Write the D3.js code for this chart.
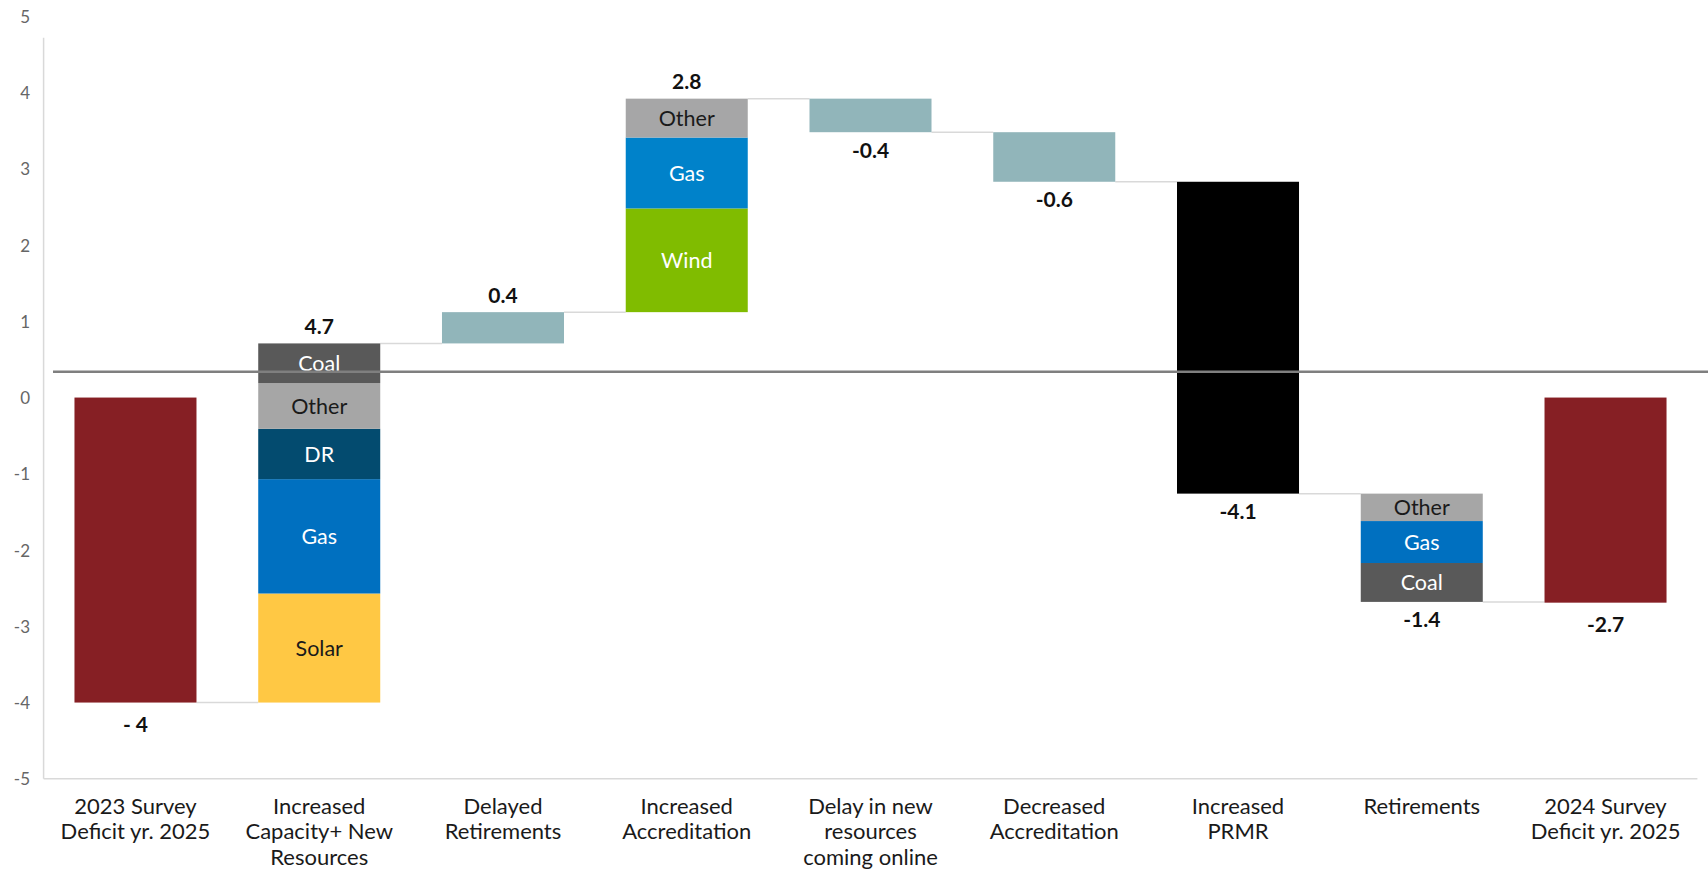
<!DOCTYPE html>
<html>
<head>
<meta charset="utf-8">
<script src="https://cdn.jsdelivr.net/npm/d3@7"></script>
<style>
  html, body { margin: 0; padding: 0; background: #ffffff; }
  svg { display: block; }
</style>
</head>
<body>
<svg id="chart" width="1708" height="872"></svg>
<script>
// ---------------- DATA ----------------
const categories = [
  "2023 Survey\nDeficit yr. 2025",
  "Increased\nCapacity+ New\nResources",
  "Delayed\nRetirements",
  "Increased\nAccreditation",
  "Delay in new\nresources\ncoming online",
  "Decreased\nAccreditation",
  "Increased\nPRMR",
  "Retirements",
  "2024 Survey\nDeficit yr. 2025"
];
const startDeficit = -4.0;
const endDeficit = -2.69;
const capacitySeries = ["Solar", "Gas", "DR", "Other", "Coal"];
const capacityValues = [1.43, 1.50, 0.66, 0.60, 0.52];
const delayedRetirementsValue = 0.41;
const accreditationSeries = ["Wind", "Gas", "Other"];
const accreditationValues = [1.36, 0.93, 0.51];
const delayOnlineValue = -0.44;
const decreasedAccreditationValue = -0.65;
const prmrValue = -4.09;
const retirementSeries = ["Other", "Gas", "Coal"];
const retirementValues = [-0.36, -0.55, -0.51];
const valueLabels = ["- 4", "4.7", "0.4", "2.8", "-0.4", "-0.6", "-4.1", "-1.4", "-2.7"];
const referenceLineValue = 0.34;
const yTickValues = [5, 4, 3, 2, 1, 0, -1, -2, -3, -4, -5];
const yTickLabels = ["5", "4", "3", "2", "1", "0", "-1", "-2", "-3", "-4", "-5"];

// ---------------- STYLE ----------------
const W = 1708, H = 872;
const plot = { left: 43.6, right: 1697.4, top: 16.3, bottom: 778.8 };
const font = "Lato, 'Open Sans', sans-serif";
const fills = {
  deficit: "#861F24",
  step: "#91B5BA",
  prmr: "#000000",
  cap_Solar: "#FFC844", cap_Gas: "#0070C0", cap_DR: "#034B6F", cap_Other: "#A6A6A6", cap_Coal: "#595959",
  acc_Wind: "#80BC00", acc_Gas: "#0082CA", acc_Other: "#A6A6A7",
  ret_Other: "#A6A6A6", ret_Gas: "#0070C0", ret_Coal: "#595959"
};
const darkText = new Set(["Solar", "Other"]);

// ---------------- BUILD STEPS ----------------
const steps = [];
steps.push({ cat: categories[0], segments: [{ key: "deficit", name: null, from: 0, to: startDeficit }], total: true });
let level = startDeficit;
function addStack(cat, prefix, names, values) {
  const segs = [];
  names.forEach((n, i) => {
    const from = level, to = level + values[i];
    segs.push({ key: prefix + "_" + n, name: n, from, to });
    level = to;
  });
  steps.push({ cat, segments: segs });
}
function addSingle(cat, key, value) {
  steps.push({ cat, segments: [{ key, name: null, from: level, to: level + value }] });
  level += value;
}
addStack(categories[1], "cap", capacitySeries, capacityValues);
addSingle(categories[2], "step", delayedRetirementsValue);
addStack(categories[3], "acc", accreditationSeries, accreditationValues);
addSingle(categories[4], "step", delayOnlineValue);
addSingle(categories[5], "step", decreasedAccreditationValue);
addSingle(categories[6], "prmr", prmrValue);
addStack(categories[7], "ret", retirementSeries, retirementValues);
steps.push({ cat: categories[8], segments: [{ key: "deficit", name: null, from: 0, to: endDeficit }], total: true });

steps.forEach((s, i) => {
  const vals = s.segments.flatMap(d => [d.from, d.to]);
  s.lo = d3.min(vals); s.hi = d3.max(vals);
  s.label = valueLabels[i];
  const first = s.segments[0].from, last = s.segments[s.segments.length - 1].to;
  s.up = !s.total && last > first;
  s.endLevel = s.total ? s.segments[0].to : last;
});

// ---------------- SCALES ----------------
const x = d3.scaleBand().domain(categories).range([plot.left, plot.right]).paddingInner(0.336).paddingOuter(0.168);
const y = d3.scaleLinear().domain([-5, 5]).range([plot.bottom, plot.top]);

const svg = d3.select("#chart");

// axes lines
svg.append("line").attr("x1", plot.left).attr("x2", plot.left)
  .attr("y1", y(4.72)).attr("y2", y(-5))
  .attr("stroke", "#d9d9d9").attr("stroke-width", 1.5);
svg.append("line").attr("x1", plot.left).attr("x2", plot.right)
  .attr("y1", y(-5)).attr("y2", y(-5))
  .attr("stroke", "#d9d9d9").attr("stroke-width", 1.5);

// y tick labels
const yAxis = d3.axisLeft(y).tickValues(yTickValues).tickSize(0).tickPadding(0)
  .tickFormat((d, i) => yTickLabels[i]);
const yg = svg.append("g").attr("transform", `translate(${30},0)`).call(yAxis);
yg.select(".domain").remove();
yg.selectAll("text").attr("font-family", font).attr("font-size", 17).attr("fill", "#666666").attr("dy", "0.35em");

// x category labels
const xAxis = d3.axisBottom(x).tickSize(0).tickFormat(() => "");
const xg = svg.append("g").attr("transform", `translate(0,${plot.bottom})`).call(xAxis);
xg.select(".domain").remove();
xg.selectAll(".tick").each(function(d) {
  const lines = d.split("\n");
  const t = d3.select(this).append("text")
    .attr("text-anchor", "middle").attr("font-family", font).attr("font-size", 22)
    .attr("fill", "#1a1a1a");
  lines.forEach((ln, i) => {
    t.append("tspan").attr("x", 0).attr("y", 35 + i * 25.5).text(ln);
  });
});

// connectors
const bw = x.bandwidth();
for (let i = 0; i < steps.length - 1; i++) {
  const lv = steps[i].endLevel;
  svg.append("line")
    .attr("x1", x(steps[i].cat) + bw).attr("x2", x(steps[i + 1].cat))
    .attr("y1", y(lv)).attr("y2", y(lv))
    .attr("stroke", "#d9d9d9").attr("stroke-width", 1.5);
}

// bars
const allSegs = steps.flatMap(s => s.segments.map(seg => Object.assign({ cat: s.cat }, seg)));
svg.append("g").selectAll("rect").data(allSegs).join("rect")
  .attr("x", d => x(d.cat))
  .attr("width", bw)
  .attr("y", d => y(Math.max(d.from, d.to)))
  .attr("height", d => Math.abs(y(d.from) - y(d.to)))
  .attr("fill", d => fills[d.key]);

// segment labels
svg.append("g").selectAll("text").data(allSegs.filter(d => d.name)).join("text")
  .attr("x", d => x(d.cat) + bw / 2)
  .attr("y", d => y((d.from + d.to) / 2))
  .attr("dy", "0.36em")
  .attr("text-anchor", "middle")
  .attr("font-family", font).attr("font-size", 21.5)
  .attr("fill", d => darkText.has(d.name) ? "#1a1a1a" : "#ffffff")
  .text(d => d.name);

// reference line
svg.append("line").attr("x1", 53).attr("x2", W)
  .attr("y1", y(referenceLineValue)).attr("y2", y(referenceLineValue))
  .attr("stroke", "#7f7f7f").attr("stroke-width", 2.5);

// value labels
svg.append("g").selectAll("text").data(steps).join("text")
  .attr("x", d => x(d.cat) + bw / 2)
  .attr("y", d => d.up ? y(d.hi) - 17 : y(d.lo) + (d.total ? 22 : 18))
  .attr("dy", "0.36em")
  .attr("text-anchor", "middle")
  .attr("font-family", font).attr("font-size", 21).attr("font-weight", "bold")
  .attr("fill", "#111111")
  .text(d => d.label);
</script>
</body>
</html>
